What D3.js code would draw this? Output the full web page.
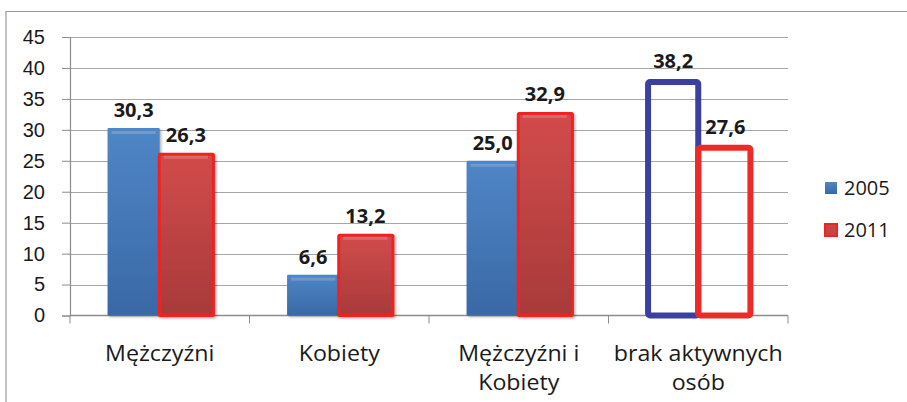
<!DOCTYPE html>
<html>
<head>
<meta charset="utf-8">
<script src="https://d3js.org/d3.v7.min.js"></script>
<style>
  body { margin: 0; background: #fff; }
  svg { display: block; font-family: "Open Sans", Lato, sans-serif; }
</style>
</head>
<body>
<svg id="viz" width="907" height="402"></svg>
<script>
// data
var categories = [["Mężczyźni"], ["Kobiety"], ["Mężczyźni i", "Kobiety"], ["brak aktywnych", "osób"]];
var seriesNames = ["2005", "2011"];
var values2005 = [30.3, 6.6, 25.0, 38.2];
var values2011 = [26.3, 13.2, 32.9, 27.6];
var yTicks = [0, 5, 10, 15, 20, 25, 30, 35, 40, 45];

var svg = d3.select("#viz");

// outer frame (only top and left visible)
svg.append("path")
  .attr("d", "M6,402 L6,11.5 L907,11.5")
  .attr("fill", "none")
  .attr("stroke", "#9a9a9a")
  .attr("stroke-width", 1.2);

var mLeft = 70, mRight = 788, mTop = 37, mBottom = 315.5;
var fontSize = 20;

var y = d3.scaleLinear().domain([0, 45]).range([mBottom, mTop]);
var x0 = d3.scaleBand().domain(d3.range(categories.length)).range([mLeft, mRight]).padding(0);
var x1 = d3.scaleBand().domain(seriesNames).range([0, x0.bandwidth()]).paddingInner(0).paddingOuter(0.72);

var defs = svg.append("defs");
function grad(id, stops) {
  var g = defs.append("linearGradient").attr("id", id).attr("x1", 0).attr("y1", 0).attr("x2", 0).attr("y2", 1);
  stops.forEach(s => g.append("stop").attr("offset", s[0]).attr("stop-color", s[1]));
}
grad("gBlue", [[0, "#4f86c6"], [1, "#3a68a6"]]);
grad("gRed", [[0, "#d24b4b"], [1, "#a83a3a"]]);
var sh = defs.append("filter").attr("id", "shadow").attr("x", "-20%").attr("y", "-20%").attr("width", "140%").attr("height", "140%");
sh.append("feDropShadow").attr("dx", 1.5).attr("dy", 1.5).attr("stdDeviation", 1.2).attr("flood-color", "#000").attr("flood-opacity", 0.3);

// grid
svg.append("g").selectAll("line").data(yTicks.filter(d => d > 0)).join("line")
  .attr("x1", mLeft).attr("x2", mRight)
  .attr("y1", d => Math.round(y(d)) + 0.5).attr("y2", d => Math.round(y(d)) + 0.5)
  .attr("stroke", "#a6a6a6").attr("stroke-width", 1.2);

// y axis
var yAxis = svg.append("g").attr("transform", `translate(${mLeft},0)`)
  .call(d3.axisLeft(y).tickValues(yTicks).tickSize(8).tickPadding(17));
yAxis.select(".domain").attr("stroke", "#8c8c8c").attr("stroke-width", 1.2);
yAxis.selectAll(".tick line").attr("stroke", "#8c8c8c");
yAxis.selectAll("text").attr("font-size", fontSize).attr("fill", "#1a1a1a").attr("font-family", null);

// x axis
var xAxis = svg.append("g").attr("transform", `translate(0,${mBottom})`);
xAxis.append("line").attr("x1", mLeft).attr("x2", mRight).attr("stroke", "#8c8c8c").attr("stroke-width", 1.5);
xAxis.selectAll(".xt").data(d3.range(categories.length + 1)).join("line")
  .attr("x1", d => mLeft + d * x0.step()).attr("x2", d => mLeft + d * x0.step())
  .attr("y1", 0).attr("y2", 8).attr("stroke", "#8c8c8c");
xAxis.selectAll(".cat").data(categories).join("text")
  .attr("text-anchor", "middle")
  .attr("font-size", 21.5).attr("fill", "#1a1a1a")
  .attr("transform", (d, i) => `translate(${x0(i) + x0.bandwidth() / 2},45) scale(1.08,1)`)
  .selectAll("tspan").data(d => d).join("tspan")
  .attr("x", 0).attr("dy", (d, i) => i === 0 ? 0 : 30).text(d => d);

// bars
var rows = categories.map((c, i) => ({ i: i, vals: [values2005[i], values2011[i]] }));
var last = categories.length - 1;
var grp = svg.append("g").selectAll("g").data(rows).join("g")
  .attr("transform", d => `translate(${x0(d.i)},0)`);

// outer box of each bar: [x1 - grow left, x1 + bw + grow right]
function box(d) {
  var bw = x1.bandwidth(), x = x1(d.s), sw = d.i === last ? 6 : (d.k === 1 ? 3 : 0);
  var l = d.i === last ? (d.k === 0 ? -1 : -3) : (d.k === 1 ? -2 : 0);
  var r = d.i === last ? 3 : (d.k === 1 ? 3 : 0);
  return { x: x + l + sw / 2, w: bw - l + r - sw, top: y(d.v) + sw / 2, sw: sw };
}

grp.selectAll("rect").data(d => d.vals.map((v, k) => ({ v: v, s: seriesNames[k], k: k, i: d.i }))).join("rect")
  .attr("x", d => box(d).x)
  .attr("y", d => box(d).top)
  .attr("width", d => box(d).w)
  .attr("height", d => y(0) - box(d).top)
  .attr("rx", d => d.i === last ? 2 : 1)
  .attr("fill", d => d.i === last ? "none" : (d.k === 0 ? "url(#gBlue)" : "url(#gRed)"))
  .attr("stroke", d => d.i === last ? (d.k === 0 ? "#3b3f9e" : "#ec2a2a") : (d.k === 1 ? "#ee2424" : "none"))
  .attr("stroke-width", d => box(d).sw)
  .attr("filter", d => d.i === last ? null : "url(#shadow)");

// bevel highlight on filled bars
grp.filter(d => d.i !== last).selectAll(".hl").data(d => d.vals.map((v, k) => ({ v: v, s: seriesNames[k], k: k }))).join("rect")
  .attr("x", d => x1(d.s) + 4).attr("y", d => y(d.v) + 3)
  .attr("width", d => x1.bandwidth() - 8).attr("height", 3)
  .attr("fill", "#fff").attr("opacity", 0.18);

// value labels
grp.selectAll("text").data(d => d.vals.map((v, k) => ({ v: v, s: seriesNames[k], k: k, i: d.i }))).join("text")
  .attr("x", d => x1(d.s) + x1.bandwidth() / 2 + (d.i === last ? 1 : 0))
  .attr("y", d => y(d.v) - 11)
  .attr("text-anchor", "middle")
  .attr("font-size", fontSize).attr("font-weight", "bold").attr("fill", "#1a1a1a")
  .text(d => d3.format(".1f")(d.v).replace(".", ","));

// legend
var leg = svg.append("g").attr("transform", "translate(825,180)");
var lg = leg.selectAll("g").data(seriesNames).join("g")
  .attr("transform", (d, i) => `translate(0,${i * 42})`);
lg.append("rect").attr("width", 12).attr("height", 12).attr("y", 2)
  .attr("fill", (d, i) => i === 0 ? "url(#gBlue)" : "#c94545")
  .attr("stroke", (d, i) => i === 0 ? "none" : "#ee2424").attr("stroke-width", 2);
lg.append("text").attr("x", 19).attr("y", 15).attr("font-size", fontSize).attr("fill", "#1a1a1a").text(d => d);
</script>
</body>
</html>
